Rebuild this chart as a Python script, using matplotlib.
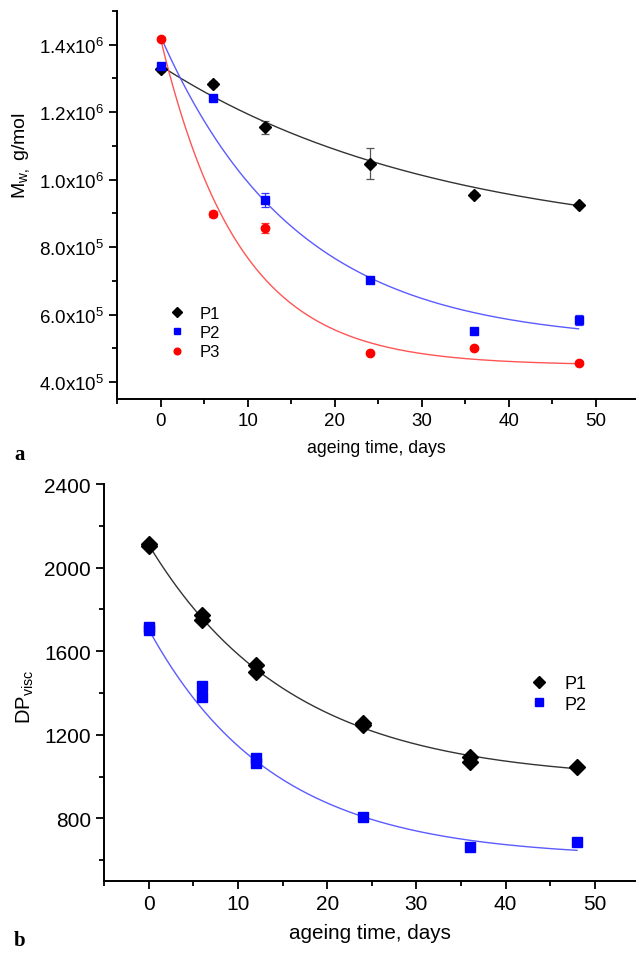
import numpy as np
import matplotlib
matplotlib.use("Agg")
import matplotlib.pyplot as plt
from matplotlib.ticker import MultipleLocator, FuncFormatter

plt.rcParams['font.family'] = ['Liberation Sans', 'DejaVu Sans']
plt.rcParams['mathtext.fontset'] = 'custom'
plt.rcParams['mathtext.rm'] = 'Liberation Sans'
plt.rcParams['mathtext.it'] = 'Liberation Sans:italic'
plt.rcParams['mathtext.default'] = 'regular'

# (a) weight-average molar mass, g/mol
days = [0, 6, 12, 24, 36, 48]
mw_p1 = [1.328e6, 1.284e6, 1.155e6, 1.048e6, 0.956e6, 0.924e6]
mw_p1_err = [0.008e6, 0.010e6, 0.020e6, 0.046e6, 0.008e6, 0.005e6]
mw_p2 = [1.337e6, 1.243e6, 0.940e6, 0.702e6, 0.551e6, 0.583e6]
mw_p2_err = [0.006e6, 0.005e6, 0.021e6, 0.006e6, 0.004e6, 0.015e6]
mw_p3 = [1.418e6, 0.898e6, 0.857e6, 0.486e6, 0.502e6, 0.458e6]
mw_p3_err = [0.004e6, 0.008e6, 0.014e6, 0.004e6, 0.004e6, 0.004e6]

# exponential decay fits y0 + A*exp(-t/tau)
fit_mw_p1 = (0.804e6, 0.534e6, 32.0)
fit_mw_p2 = (0.517e6, 0.908e6, 15.5)
fit_mw_p3 = (0.450e6, 0.968e6, 9.0)

# (b) viscometric degree of polymerisation (duplicate measurements)
dp_days = [0, 0, 6, 6, 12, 12, 24, 24, 36, 36, 48]
dp_p1 = [2105, 2115, 1772, 1748, 1534, 1502, 1258, 1248, 1092, 1068, 1044]
dp_p2_days = [0, 0, 6, 6, 12, 12, 24, 36, 48]
dp_p2 = [1715, 1700, 1433, 1379, 1090, 1065, 808, 663, 685]

fit_dp_p1 = (981.0, 1129.0, 16.0)
fit_dp_p2 = (611.0, 1094.0, 14.0)


def expdec(t, p):
    y0, a, tau = p
    return y0 + a * np.exp(-t / tau)


def mw_label(v, pos):
    exp = int(np.floor(np.log10(v)))
    return "%.1fx10$^{%d}$" % (v / 10 ** exp, exp)


def style_axes(ax, tick_size):
    ax.spines['top'].set_visible(False)
    ax.spines['right'].set_visible(False)
    ax.spines['left'].set_linewidth(1.4)
    ax.spines['bottom'].set_linewidth(1.4)
    ax.tick_params(which='major', direction='out', length=6, width=1.3,
                   labelsize=tick_size)
    ax.tick_params(which='minor', direction='out', length=3.5, width=1.3)
    ax.xaxis.set_major_locator(MultipleLocator(10))
    ax.xaxis.set_minor_locator(MultipleLocator(5))
    ax.set_xlim(-5, 54.6)


fig = plt.figure(figsize=(6.36, 9.54), dpi=100)
tt = np.linspace(0, 48, 300)

# ---- panel a ----
ax1 = fig.add_axes([0.184, 0.5807, 0.816, 0.4067])
style_axes(ax1, 13.5)
ax1.plot(tt, expdec(tt, fit_mw_p1), color='#333333', lw=1.0)
ax1.plot(tt, expdec(tt, fit_mw_p2), color='#5b5bff', lw=1.0)
ax1.plot(tt, expdec(tt, fit_mw_p3), color='#ff5555', lw=1.0)
ax1.errorbar(days, mw_p1, yerr=mw_p1_err, fmt='D', color='black', ms=6.5,
             ecolor='#555555', elinewidth=0.9, capsize=3, capthick=0.9,
             label='P1')
ax1.errorbar(days, mw_p2, yerr=mw_p2_err, fmt='s', color='#0000ff', ms=5.5,
             ecolor='#3333ff', elinewidth=0.9, capsize=3, capthick=0.9,
             label='P2')
ax1.errorbar(days, mw_p3, yerr=mw_p3_err, fmt='o', color='#ff0000', ms=6,
             ecolor='#ff3333', elinewidth=0.9, capsize=3, capthick=0.9,
             label='P3')
ax1.set_ylim(0.35e6, 1.5e6)
ax1.yaxis.set_major_locator(MultipleLocator(0.2e6))
ax1.yaxis.set_minor_locator(MultipleLocator(0.1e6))
ax1.yaxis.set_major_formatter(FuncFormatter(mw_label))
ax1.set_xlabel('ageing time, days', fontsize=12.8, labelpad=7)
ax1.set_ylabel('M$_{w,}$ g/mol', fontsize=14)
ax1.yaxis.set_label_coords(-0.164, 0.63)
handles, labels = ax1.get_legend_handles_labels()
handles = [h[0] for h in handles]
ax1.legend(handles, labels, loc='upper left',
           bbox_to_anchor=(0.07, 0.278), frameon=False, fontsize=12,
           handlelength=1.0, handletextpad=0.9, labelspacing=0.25,
           markerscale=0.8)

# ---- panel b ----
ax2 = fig.add_axes([0.1635, 0.0755, 0.8365, 0.4161])
style_axes(ax2, 15)
ax2.plot(tt, expdec(tt, fit_dp_p1), color='#333333', lw=1.0)
ax2.plot(tt, expdec(tt, fit_dp_p2), color='#5b5bff', lw=1.0)
ax2.plot(dp_days, dp_p1, 'D', color='black', ms=8.5, label='P1')
ax2.plot(dp_p2_days, dp_p2, 's', color='#0000ff', ms=7, label='P2')
ax2.set_ylim(500, 2400)
ax2.yaxis.set_major_locator(MultipleLocator(400))
ax2.yaxis.set_minor_locator(MultipleLocator(200))
ax2.set_xlabel('ageing time, days', fontsize=14.9, labelpad=7)
ax2.set_ylabel('DP$_{visc}$', fontsize=14.5)
ax2.yaxis.set_label_coords(-0.128, 0.466)
ax2.legend(loc='upper left', bbox_to_anchor=(0.77, 0.56), frameon=False,
           fontsize=13, handlelength=1.0, handletextpad=0.9,
           labelspacing=0.2, markerscale=0.75)

fig.text(0.022, 0.523, 'a', family='Liberation Serif', fontweight='bold',
         fontsize=15, va='center')
fig.text(0.022, 0.014, 'b', family='Liberation Serif', fontweight='bold',
         fontsize=15, va='center')

fig.savefig('out.png', dpi=100)
